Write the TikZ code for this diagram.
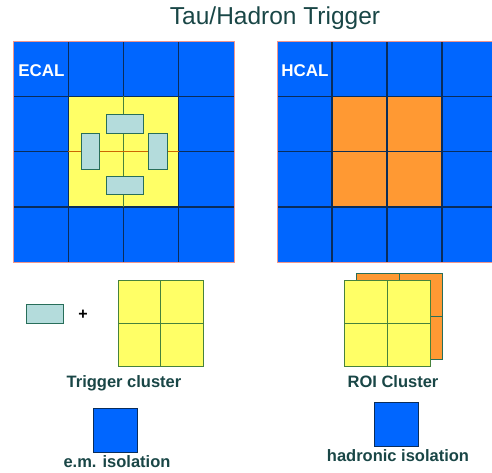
\documentclass[tikz,border=0pt]{standalone}
\usepackage{fontspec}
\setmainfont{Liberation Sans}
\definecolor{calblue}{RGB}{0,102,255}
\definecolor{gridline}{RGB}{10,45,90}
\definecolor{cyel}{RGB}{255,255,102}
\definecolor{corange}{RGB}{255,153,51}
\definecolor{cbox}{RGB}{180,220,220}
\definecolor{cboxline}{RGB}{40,110,90}
\definecolor{cgreen}{RGB}{70,130,60}
\definecolor{ctext}{RGB}{25,70,70}
\definecolor{cpink}{RGB}{240,150,140}
\tikzset{
  bluecell/.style={fill=calblue},
  gridl/.style={draw=gridline,line width=1.3pt},
  yelcell/.style={fill=cyel},
  yell/.style={draw=cgreen,line width=1pt},
  orl/.style={draw=cboxline,line width=1pt},
  tower/.style={fill=cbox,draw=cboxline,line width=1pt},
  lbl/.style={font=\bfseries\fontsize{16.5}{18}\selectfont,text=ctext,anchor=base,inner sep=0pt},
  callbl/.style={font=\bfseries\fontsize{17}{18}\selectfont,text=white,anchor=base,inner sep=0pt},
}
\begin{document}
\begin{tikzpicture}[x=1pt,y=-1pt]
\useasboundingbox (0,0) rectangle (492,472);
\clip (0,0) rectangle (492,472);
% title
\node[font=\fontsize{24.5}{26}\selectfont,text=ctext,anchor=base,inner sep=0pt] (title) at (275,24) {Tau/Hadron Trigger};
% ECAL
\fill[bluecell] (13,41) rectangle (234,262);
\fill[yelcell] (68.3,96.3) rectangle (178.8,206.9);
\draw[gridl] (68.3,41) -- (68.3,96.3) (68.3,206.9) -- (68.3,262);
\draw[gridl] (123.5,41) -- (123.5,96.3) (123.5,206.9) -- (123.5,262);
\draw[gridl] (178.8,41) -- (178.8,96.3) (178.8,206.9) -- (178.8,262);
\draw[gridl] (13,96.3) -- (234,96.3) (13,206.9) -- (234,206.9);
\draw[gridl] (13,151.6) -- (68.3,151.6) (178.8,151.6) -- (234,151.6);
\draw[gridl] (68.3,96.3) -- (68.3,206.9) (178.8,96.3) -- (178.8,206.9);
\draw[yell] (123.5,96.3) -- (123.5,206.9);
\draw[draw=orange!80!black,line width=1pt] (68.3,151.6) -- (178.8,151.6);
\draw[cpink,line width=0.6pt] (13,41) rectangle (234,262);
\node[tower,minimum width=37pt,minimum height=19pt,inner sep=0pt] (tt) at (124.5,123.5) {};
\node[tower,minimum width=18pt,minimum height=36pt,inner sep=0pt] (tl) at (90,151) {};
\node[tower,minimum width=19pt,minimum height=36pt,inner sep=0pt] (tr) at (157.5,151) {};
\node[tower,minimum width=37pt,minimum height=18pt,inner sep=0pt] (tb) at (124.5,185) {};
\node[callbl] (ecal) at (41.5,76) {ECAL};
% HCAL
\fill[bluecell] (277,41) rectangle (497,262);
\fill[corange] (332,96.3) rectangle (442,206.9);
\foreach \x in {332,387,442} \draw[gridl] (\x,41) -- (\x,262);
\foreach \y in {96.3,151.6,206.9} \draw[gridl] (277,\y) -- (497,\y);
\draw[cpink,line width=0.6pt] (277,41) rectangle (497,262);
\node[callbl] (hcal) at (305,76) {HCAL};
% bottom left
\node[tower,minimum width=37pt,minimum height=19pt,inner sep=0pt] (single) at (44.5,313.5) {};
\node[font=\bfseries\fontsize{16}{18}\selectfont,text=black,inner sep=0pt] (plus) at (83,315) {+};
\fill[yelcell] (118,280) rectangle (203,366);
\draw[yell] (118,280) rectangle (203,366) (160.5,280) -- (160.5,366) (118,323) -- (203,323);
\node[lbl] (tc) at (124,387) {Trigger cluster};
\node[fill=calblue,draw=gridline,line width=0.6pt,minimum width=44pt,minimum height=44pt,inner sep=0pt] (em) at (115,430) {};
\node[lbl] (emt) at (117,467.5) {e.m. isolation};
% bottom right
\fill[corange] (356,273) rectangle (442,359);
\draw[orl] (356,273) rectangle (442,359) (399,273) -- (399,359) (356,316) -- (442,316);
\fill[yelcell] (344,280) rectangle (430,366);
\draw[yell] (344,280) rectangle (430,366) (387,280) -- (387,366) (344,323) -- (430,323);
\node[lbl] (roi) at (393,387) {ROI Cluster};
\node[fill=calblue,draw=gridline,line width=0.6pt,minimum width=44pt,minimum height=44pt,inner sep=0pt] (had) at (396,424) {};
\node[lbl] (hadt) at (398,461) {hadronic isolation};
\end{tikzpicture}
\end{document}
